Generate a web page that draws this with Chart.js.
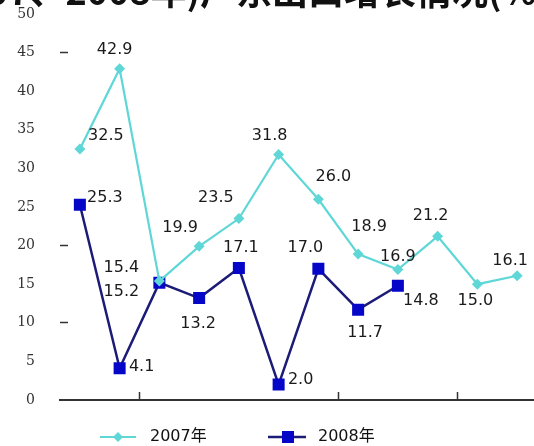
<!DOCTYPE html>
<html><head><meta charset="utf-8">
<script src="https://cdn.jsdelivr.net/npm/chart.js@4/dist/chart.umd.min.js"></script>
<style>
html,body{margin:0;padding:0;overflow:hidden;background:#fff;width:534px;height:446px;}
#c{position:absolute;left:0;top:0;}
</style></head>
<body><canvas id="c" width="537" height="446"></canvas>
<script>
const titleText = "(2007、2008年)广东出口增长情况(%)";
const months = ["1月","2月","3月","4月","5月","6月","7月","8月","9月","10月","11月","12月"];
const series2007 = [32.5, 42.9, 15.4, 19.9, 23.5, 31.8, 26.0, 18.9, 16.9, 21.2, 15.0, 16.1];
const series2008 = [25.3, 4.1, 15.2, 13.2, 17.1, 2.0, 17.0, 11.7, 14.8, null, null, null];
const yTicks = [0, 5, 10, 15, 20, 25, 30, 35, 40, 45, 50];
const seriesNames = ["2007年", "2008年"];

// label placement (pixel offsets from each point), styling only
const labelOffsets = [
  [[26,-13],[-5,-19],[-38,-13],[-19,-19],[-23,-21],[-9,-19],[15,-22],[11,-27],[0,-13],[-7,-20],[-2,17],[-7,-15]],
  [[25,-7],[22,-2],[-38,9],[-1,26],[2,-20],[22,-5],[-13,-21],[7,23],[23,15]]
];
const CYAN = '#5fd7d7';
const NAVY = '#1c1c78';
const BLUE = '#0606c8';

const labelPlugin = {
  id: 'valueLabels',
  afterDatasetsDraw(chart) {
    const ctx = chart.ctx;
    ctx.save();
    ctx.font = '16px "DejaVu Sans"';
    ctx.fillStyle = '#1a1a1a';
    ctx.textAlign = 'center';
    ctx.textBaseline = 'middle';
    chart.data.datasets.forEach((ds, di) => {
      const meta = chart.getDatasetMeta(di);
      meta.data.forEach((pt, i) => {
        const v = ds.data[i];
        if (v === null || v === undefined) return;
        const off = labelOffsets[di][i] || [0,-15];
        ctx.fillText(v.toFixed(1), pt.x + off[0], pt.y + off[1]);
      });
    });
    ctx.restore();
  }
};

const titlePlugin = {
  id: 'cutTitle',
  beforeDraw(chart) {
    const ctx = chart.ctx;
    ctx.save();
    ctx.font = 'bold 36px "Noto Sans CJK SC"';
    ctx.fillStyle = '#111';
    ctx.textAlign = 'left';
    ctx.textBaseline = 'alphabetic';
    const pre = ctx.measureText("(2007、2008年)广").width;
    ctx.fillText(titleText, 236 - pre, 5);
    ctx.restore();
  }
};

const legendPlugin = {
  id: 'lineLegend',
  afterDraw(chart) {
    const ctx = chart.ctx;
    ctx.save();
    const y = 437;
    const items = [
      {x1: 100, x2: 136, mx: 118, tx: 150, color: CYAN, lw: 2, shape: 'diamond', fill: CYAN},
      {x1: 268, x2: 306, mx: 288, tx: 318, color: NAVY, lw: 2.5, shape: 'square', fill: BLUE}
    ];
    items.forEach((it, k) => {
      ctx.strokeStyle = it.color;
      ctx.lineWidth = it.lw;
      ctx.beginPath(); ctx.moveTo(it.x1, y); ctx.lineTo(it.x2, y); ctx.stroke();
      ctx.fillStyle = it.fill;
      ctx.beginPath();
      if (it.shape === 'diamond') {
        ctx.moveTo(it.mx, y-5); ctx.lineTo(it.mx+5, y); ctx.lineTo(it.mx, y+5); ctx.lineTo(it.mx-5, y);
        ctx.closePath();
      } else {
        ctx.rect(it.mx-6, y-6, 12, 12);
      }
      ctx.fill();
      ctx.fillStyle = '#111';
      ctx.font = '16px "DejaVu Sans", "Noto Sans CJK SC"';
      ctx.textBaseline = 'middle';
      ctx.fillText(chart.data.datasets[k].label, it.tx, y);
    });
    ctx.restore();
  }
};

new Chart(document.getElementById('c'), {
  type: 'line',
  data: {
    labels: months,
    datasets: [
      {label: seriesNames[0], data: series2007, borderColor: CYAN, backgroundColor: CYAN,
       borderWidth: 2.2, pointStyle: 'rectRot', pointRadius: 5.5, pointBorderWidth: 0, tension: 0},
      {label: seriesNames[1], data: series2008, borderColor: NAVY, backgroundColor: BLUE,
       borderWidth: 2.5, pointStyle: 'rect', pointRadius: 8.5, pointBorderWidth: 0, tension: 0, spanGaps: false}
    ]
  },
  options: {
    responsive: false,
    animation: false,
    devicePixelRatio: 1,
    layout: {autoPadding: false, padding: {top: 14, right: 0, bottom: 0, left: 0}},
    plugins: {legend: {display: false}, title: {display: false}, tooltip: {enabled: false}},
    scales: {
      x: {
        type: 'category',
        offset: true,
        ticks: {display: false},
        grid: {
          offset: true,
          drawOnChartArea: false,
          drawTicks: true,
          tickLength: -8,
          tickWidth: 1.5,
          tickColor: (c) => [2,7,10].includes(c.index) ? '#333' : 'rgba(0,0,0,0)'
        },
        border: {display: true, color: '#333', width: 2},
        afterFit: (s) => { s.height = 46; s.paddingLeft = 0; s.paddingRight = 0; }
      },
      y: {
        min: 0, max: 50,
        afterBuildTicks: (s) => { s.ticks = yTicks.map(v => ({value: v})); },
        ticks: {color: '#333', font: {family: 'DejaVu Serif', size: 14}, padding: 33},
        grid: {
          drawOnChartArea: false,
          drawTicks: true,
          tickLength: -8,
          tickWidth: 1.5,
          tickColor: (c) => (c.tick && [45,20,10].includes(c.tick.value)) ? '#333' : 'rgba(0,0,0,0)'
        },
        border: {display: false},
        afterFit: (s) => { s.width = 60; s.paddingTop = 0; s.paddingBottom = 0; }
      }
    }
  },
  plugins: [titlePlugin, labelPlugin, legendPlugin]
});
</script>
</body></html>
